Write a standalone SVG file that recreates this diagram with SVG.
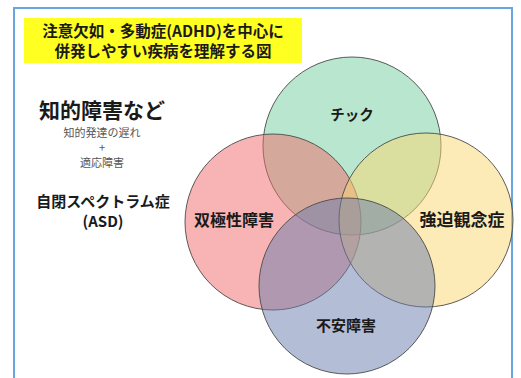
<svg xmlns="http://www.w3.org/2000/svg" width="521" height="378" viewBox="0 0 521 378">
<style>
.t{font-family:"Noto Sans CJK JP","Noto Sans",sans-serif;fill:#1a1a1a;text-anchor:middle}
.b{font-weight:bold}
.s{font-weight:normal;fill:#555;font-size:11px}
.c{stroke:#4a4a4a;stroke-width:0.9;fill-opacity:0.5}
</style>
<rect x="0" y="0" width="521" height="378" fill="#ffffff"/>
<rect id="frame" x="14" y="8" width="498" height="390" fill="none" stroke="#6aa5e0" stroke-width="2"/>
<g id="title">
<rect x="24" y="18" width="278" height="45" fill="#ffff22"/>
<text class="t b" x="163" y="37" font-size="15.5">注意欠如・多動症(ADHD)を中心に</text>
<text class="t b" x="163" y="57" font-size="15.5">併発しやすい疾病を理解する図</text>
</g>
<g id="intellectual">
<text class="t b" x="102" y="118" font-size="21">知的障害など</text>
<text class="t s" x="102" y="137">知的発達の遅れ</text>
<text class="t s" x="102" y="152">+</text>
<text class="t s" x="102" y="167">適応障害</text>
</g>
<g id="asd">
<text class="t b" x="103" y="207" font-size="15">自閉スペクトラム症</text>
<text class="t b" x="103" y="227" font-size="15">(ASD)</text>
</g>
<g id="venn">
<g id="tic"><circle class="c" cx="352" cy="146" r="89" fill="#72cd9f"/></g>
<g id="bipolar"><circle class="c" cx="273" cy="222" r="88" fill="#f16969"/></g>
<g id="ocd"><circle class="c" cx="426" cy="220" r="87" fill="#fbd770"/></g>
<g id="anxiety"><circle class="c" cx="347" cy="286" r="88" fill="#697bad"/></g>
</g>
<g id="labels">
<text class="t b" x="352" y="120" font-size="14.5">チック</text>
<text class="t b" x="234" y="226" font-size="16">双極性障害</text>
<text class="t b" x="462" y="226" font-size="17">強迫観念症</text>
<text class="t b" x="346" y="331" font-size="15">不安障害</text>
</g>
</svg>
